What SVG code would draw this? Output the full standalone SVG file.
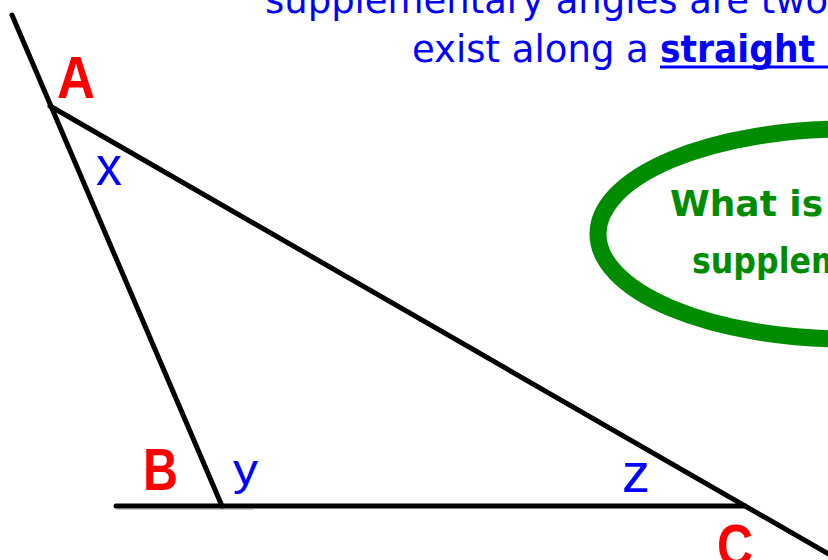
<svg xmlns="http://www.w3.org/2000/svg" width="828" height="560" viewBox="0 0 828 560">
<style>
.ln{stroke:#000;stroke-width:5;stroke-linecap:round;fill:none}
.vtx{font-family:"Liberation Sans",Arial,sans-serif;font-weight:bold;font-size:60px;fill:#ff0000}
.ang{font-family:"Liberation Sans",Arial,sans-serif;fill:#0000ff}
.cap{font-family:"DejaVu Sans","Liberation Sans",sans-serif;font-size:37px;fill:#0000ff}
.q{font-family:"DejaVu Sans","Liberation Sans",sans-serif;font-size:36px;font-weight:bold;fill:#008c00}
</style>
<rect width="828" height="560" fill="#ffffff"/>
<g id="caption">
<text class="cap" x="265" y="13" textLength="563" lengthAdjust="spacingAndGlyphs">supplementary angles are two</text>
<text class="cap" x="412" y="62">exist along a </text>
<text class="cap" x="660" y="62" font-weight="bold" textLength="155" lengthAdjust="spacingAndGlyphs">straight</text>
<line x1="660" y1="67" x2="828" y2="67" stroke="#0000ff" stroke-width="3"/>
</g>
<g id="question">
<ellipse cx="848" cy="234" rx="250" ry="105" fill="none" stroke="#008c00" stroke-width="17"/>
<text class="q" x="670" y="216">What is</text>
<text class="q" x="692" y="273" textLength="152" lengthAdjust="spacingAndGlyphs">supplem</text>
</g>
<g id="connectors">
<line class="ln" x1="12" y1="15" x2="222" y2="506"/>
<line class="ln" x1="50" y1="106" x2="832" y2="556"/>
<line class="ln" x1="116" y1="506" x2="745" y2="506"/>
<line x1="116" y1="509.5" x2="253" y2="509.5" stroke="#c8c8c8" stroke-width="1"/>
</g>
<g id="A"><text class="vtx" x="57" y="98" textLength="38" lengthAdjust="spacingAndGlyphs">A</text></g>
<g id="B"><text class="vtx" x="143" y="490" textLength="35" lengthAdjust="spacingAndGlyphs">B</text></g>
<g id="C"><text class="vtx" x="717" y="566" textLength="36" lengthAdjust="spacingAndGlyphs">C</text></g>
<g id="x"><text class="ang" x="96" y="185" font-size="56" textLength="26" lengthAdjust="spacingAndGlyphs">x</text></g>
<g id="y"><text class="ang" x="233" y="485" font-size="44" textLength="25" lengthAdjust="spacingAndGlyphs">y</text></g>
<g id="z"><text class="ang" x="622" y="492" font-size="56" textLength="28" lengthAdjust="spacingAndGlyphs">z</text></g>
</svg>
